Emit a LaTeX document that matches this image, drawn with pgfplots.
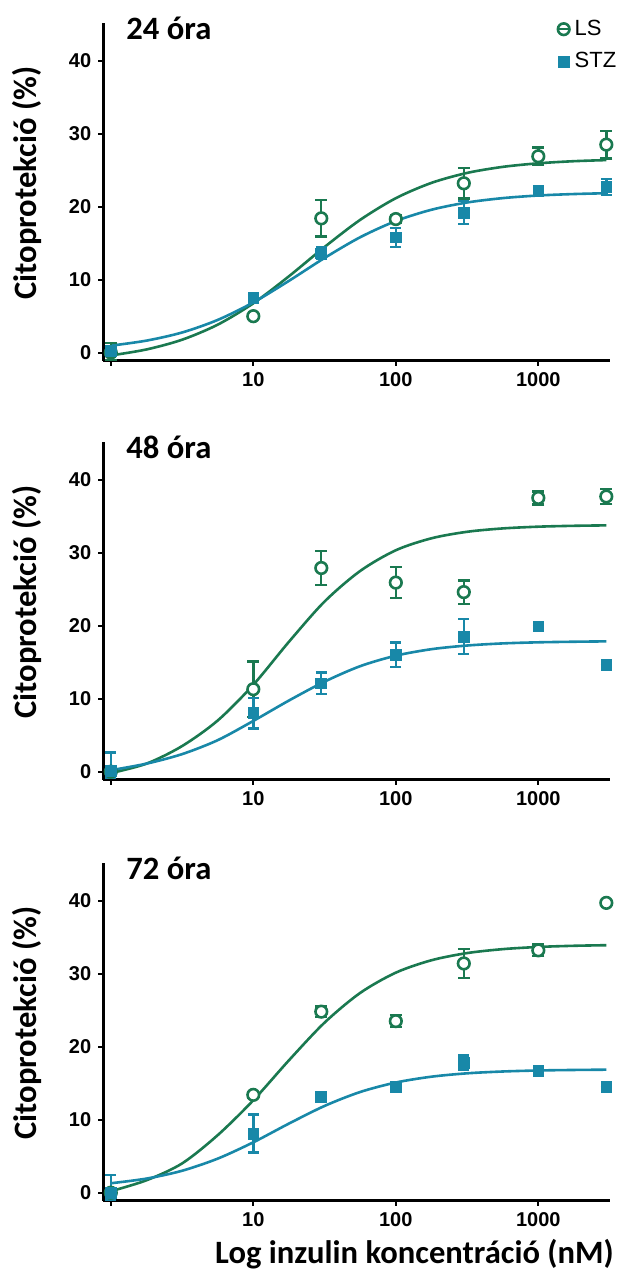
\documentclass[border=0pt]{standalone}
\usepackage{fontspec}
\setmainfont{Carlito}
\newfontfamily\arialf{Liberation Sans}
\usepackage{pgfplots}
\pgfplotsset{compat=1.18}
\definecolor{lsgreen}{RGB}{26,121,80}
\definecolor{stzteal}{RGB}{24,136,168}
\tikzset{ptitle/.style={anchor=base west, inner sep=0pt, font=\bfseries\fontsize{16.3}{19}\selectfont}}
\pgfplotsset{
  every axis/.append style={
    scale only axis, width=253.35pt, height=169pt,
    xmin=0.886, xmax=3185, ymin=-1.1, ymax=45.2,
    axis x line=bottom, axis y line=left,
    axis line style={line width=1.5pt,-},
    xtick={1,10,100,1000}, xticklabels={,10,100,1000},
    ytick={0,10,20,30,40},
    tick align=outside, major tick length=2.5pt,
    tick style={line width=1pt,black},
    ticklabel style={font=\arialf\bfseries\fontsize{10}{12}\selectfont},
    ylabel={Citoprotekció (\%)},
    ylabel style={at={(axis description cs:-0.150,0.525)}, anchor=center,
      font=\bfseries\fontsize{16.3}{19}\selectfont},
    clip=false,
  },
}
\begin{document}
\begin{tikzpicture}
% ---------------- 24 ora ----------------
\begin{semilogxaxis}[at={(51.65pt,-11.35pt)}, anchor=north west,
  xminorticks=false, /pgf/number format/assume math mode=true,
  legend style={at={(axis description cs:0.894,1.021)}, anchor=north west,
    draw=none, fill=none, inner sep=0pt, row sep=3pt,
    font=\arialf\fontsize{11}{13}\selectfont},
  legend cell align=left]
\addplot[lsgreen, line width=1.3pt, smooth, no marks, forget plot] coordinates {(1,-0.38)(1.78,0.44)(3.16,1.77)(5.62,3.83)(10,6.76)(17.8,10.47)(31.6,14.47)(56.2,18.19)(100,21.16)(178,23.26)(316,24.62)(562,25.45)(1000,25.94)(1778,26.23)(3000,26.38)};
\addplot[stzteal, line width=1.3pt, smooth, no marks, forget plot] coordinates {(1,0.96)(1.78,1.65)(3.16,2.76)(5.62,4.48)(10,6.88)(17.8,9.84)(31.6,12.97)(56.2,15.81)(100,18.03)(178,19.58)(316,20.57)(562,21.17)(1000,21.53)(1778,21.73)(3000,21.84)};
\addplot[legend image code/.code={%
      \draw[lsgreen, mark=*, mark size=2.9pt, mark options={fill=white, draw=lsgreen, line width=1.3pt}] plot coordinates {(0pt,0pt)};
      \draw[lsgreen, line width=1.2pt] (-2.9pt,0pt)--(2.9pt,0pt);},
    lsgreen, only marks, mark=*, mark size=2.9pt,
    mark options={fill=white, draw=lsgreen, line width=1.3pt, solid},
    error bars/.cd, y dir=both, y explicit,
    error bar style={line width=1.2pt, lsgreen},
    error mark options={rotate=90, mark size=3pt, line width=1.2pt, lsgreen}]
  table[x=x,y=y,y error plus=ep,y error minus=em] {
x y ep em
1 0.0 1.3 1.0
10 5.0 0.3 0.3
30 18.4 2.5 2.5
100 18.3 0.5 0.5
300 23.2 2.1 2.1
1000 26.9 1.2 1.2
3000 28.5 1.9 1.9
};
\addlegendentry{LS}
\addplot[legend image code/.code={%
      \draw[stzteal, mark=square*, mark size=2.7pt, mark options={fill=stzteal, draw=stzteal}] plot coordinates {(0pt,0pt)};},
    stzteal, only marks, mark=square*, mark size=2.7pt,
    mark options={fill=stzteal, draw=stzteal, solid},
    error bars/.cd, y dir=both, y explicit,
    error bar style={line width=1.2pt, stzteal},
    error mark options={rotate=90, mark size=2.7pt, line width=1.2pt, stzteal}]
  table[x=x,y=y,y error plus=ep,y error minus=em] {
x y ep em
1 0.2 0.6 0.6
10 7.5 0.4 0.4
30 13.6 0.8 0.8
100 15.8 1.3 1.3
300 19.2 1.6 1.6
1000 22.2 0.6 0.6
3000 22.7 1.1 1.1
};
\addlegendentry{STZ}
\node[ptitle] at (axis description cs:0.0448,0.951) {24 óra};
\end{semilogxaxis}
% ---------------- 48 ora ----------------
\begin{semilogxaxis}[at={(51.65pt,-220.85pt)}, anchor=north west,
  xminorticks=false, /pgf/number format/assume math mode=true]
\addplot[lsgreen, line width=1.3pt, smooth, no marks, forget plot] coordinates {(1,-0.2)(1.78,1.1)(3.16,3.5)(5.62,7.0)(10,11.9)(17.8,17.8)(31.6,23.3)(56.2,27.49)(100,30.33)(178,31.97)(316,32.86)(562,33.32)(1000,33.56)(1778,33.68)(3000,33.74)};
\addplot[stzteal, line width=1.3pt, smooth, no marks, forget plot] coordinates {(1,0.2)(1.78,1.1)(3.16,2.4)(5.62,4.31)(10,6.95)(17.8,9.75)(31.6,12.33)(56.2,14.45)(100,15.89)(178,16.78)(316,17.28)(562,17.57)(1000,17.72)(1778,17.80)(3000,17.85)};
\addplot[lsgreen, only marks, mark=*, mark size=2.9pt,
    mark options={fill=white, draw=lsgreen, line width=1.3pt, solid},
    error bars/.cd, y dir=both, y explicit,
    error bar style={line width=1.2pt, lsgreen},
    error mark options={rotate=90, mark size=3pt, line width=1.2pt, lsgreen}]
  table[x=x,y=y,y error plus=ep,y error minus=em] {
x y ep em
1 0.0 0.5 0.5
10 11.3 3.8 3.8
30 27.9 2.3 2.3
100 25.9 2.1 2.1
300 24.6 1.6 1.6
1000 37.5 0.9 0.9
3000 37.7 1.0 1.0
};
\addplot[stzteal, only marks, mark=square*, mark size=2.7pt,
    mark options={fill=stzteal, draw=stzteal, solid},
    error bars/.cd, y dir=both, y explicit,
    error bar style={line width=1.2pt, stzteal},
    error mark options={rotate=90, mark size=2.7pt, line width=1.2pt, stzteal}]
  table[x=x,y=y,y error plus=ep,y error minus=em] {
x y ep em
1 0.1 2.5 1.0
10 8.0 2.1 2.1
30 12.1 1.5 1.5
100 16.0 1.7 1.7
300 18.5 2.4 2.4
1000 19.9 0 0
3000 14.6 0 0
};
\node[ptitle] at (axis description cs:0.0448,0.9497) {48 óra};
\end{semilogxaxis}
% ---------------- 72 ora ----------------
\begin{semilogxaxis}[at={(51.65pt,-431.35pt)}, anchor=north west,
  xminorticks=false, /pgf/number format/assume math mode=true,
  xlabel={Log inzulin koncentráció (nM)},
  xlabel style={at={(axis description cs:0.614,-0.1843)}, anchor=base,
    font=\bfseries\fontsize{16.3}{19}\selectfont}]
\addplot[lsgreen, line width=1.3pt, smooth, no marks, forget plot] coordinates {(1,0.2)(1.78,1.7)(3.16,4.0)(5.62,7.87)(10,12.66)(17.8,18.14)(31.6,23.29)(56.2,27.36)(100,30.14)(178,31.84)(316,32.82)(562,33.36)(1000,33.66)(1778,33.82)(3000,33.90)};
\addplot[stzteal, line width=1.3pt, smooth, no marks, forget plot] coordinates {(1,1.29)(1.78,1.93)(3.16,3.00)(5.62,4.66)(10,6.90)(17.8,9.47)(31.6,11.88)(56.2,13.79)(100,15.09)(178,15.89)(316,16.35)(562,16.60)(1000,16.74)(1778,16.81)(3000,16.85)};
\addplot[lsgreen, only marks, mark=*, mark size=2.9pt,
    mark options={fill=white, draw=lsgreen, line width=1.3pt, solid},
    error bars/.cd, y dir=both, y explicit,
    error bar style={line width=1.2pt, lsgreen},
    error mark options={rotate=90, mark size=3pt, line width=1.2pt, lsgreen}]
  table[x=x,y=y,y error plus=ep,y error minus=em] {
x y ep em
1 0.0 0.5 0.5
10 13.4 0.4 0.4
30 24.8 0.7 0.7
100 23.5 0.8 0.8
300 31.4 2.0 2.0
1000 33.2 0.8 0.8
3000 39.7 0 0
};
\addplot[stzteal, only marks, mark=square*, mark size=2.7pt,
    mark options={fill=stzteal, draw=stzteal, solid},
    error bars/.cd, y dir=both, y explicit,
    error bar style={line width=1.2pt, stzteal},
    error mark options={rotate=90, mark size=2.7pt, line width=1.2pt, stzteal}]
  table[x=x,y=y,y error plus=ep,y error minus=em] {
x y ep em
1 0.0 2.4 1.0
10 8.1 2.6 2.6
30 13.1 0.7 0.7
100 14.5 0.4 0.4
300 17.8 1.0 1.0
1000 16.7 0.4 0.4
3000 14.5 0 0
};
\node[ptitle] at (axis description cs:0.0448,0.9497) {72 óra};
\end{semilogxaxis}
\pgfresetboundingbox
\path[use as bounding box] (0pt,0pt) rectangle (310.5pt,-637.5pt);
\end{tikzpicture}
\end{document}
